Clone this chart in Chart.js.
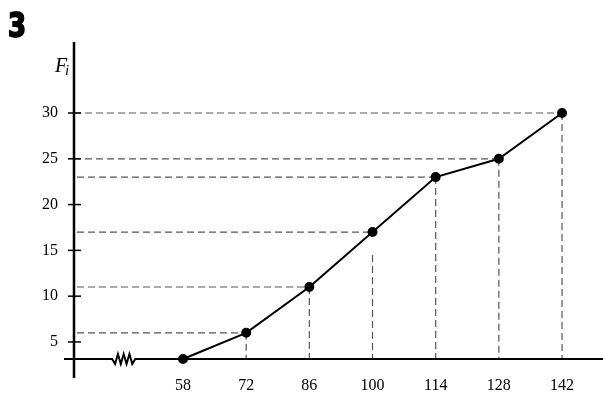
<!DOCTYPE html>
<html>
<head>
<meta charset="utf-8">
<script src="https://cdn.jsdelivr.net/npm/chart.js@4"></script>
<style>
  html, body { margin: 0; padding: 0; background: #fff; }
  #wrap { position: relative; width: 603px; height: 411px; }
</style>
</head>
<body>
<div id="wrap"><canvas id="ogiva"></canvas></div>
<script>
// datos de la ojiva
const limites = [58, 72, 86, 100, 114, 128, 142];
const frecAcum = [0, 6, 11, 17, 23, 25, 30];
const ticksY = [5, 10, 15, 20, 25, 30];
// la guia vertical de 100 empieza algo mas abajo del punto en el original
const inicioGuia = [6, 11, 14.5, 23, 25, 30];

// escala con el tramo 0..5 comprimido (el eje x cae en 0)
class EscalaCortada extends Chart.LinearScale {
    getPixelForValue(value, index) {
        if (value < 5) {
            const p5 = super.getPixelForValue(5);
            return this.bottom + (p5 - this.bottom) * (value / 5);
        }
        return super.getPixelForValue(value, index);
    }
}
EscalaCortada.id = 'cortada';
EscalaCortada.defaults = Chart.LinearScale.defaults;
Chart.register(EscalaCortada);

const serif = "'Liberation Serif', 'DejaVu Serif', serif";

// ejes, guias punteadas, rotulos
const dibujoEjes = {
    id: 'dibujoEjes',
    beforeDatasetsDraw(chart) {
        const ctx = chart.ctx;
        const xs = chart.scales.x, ys = chart.scales.y;
        const ca = chart.chartArea;
        ctx.save();
        // guias punteadas
        ctx.strokeStyle = '#555';
        ctx.lineWidth = 1.2;
        ctx.setLineDash([7, 4]);
        for (let i = 1; i < limites.length; i++) {
            const px = xs.getPixelForValue(limites[i]);
            const py = ys.getPixelForValue(frecAcum[i]);
            ctx.beginPath();
            ctx.moveTo(frecAcum[i] >= 25 ? ca.left : ca.left + 3, py);
            ctx.lineTo(px, py);
            ctx.stroke();
            ctx.beginPath();
            ctx.moveTo(px, ys.getPixelForValue(inicioGuia[i - 1]));
            ctx.lineTo(px, ca.bottom);
            ctx.stroke();
        }
        ctx.setLineDash([]);
        // eje y
        ctx.strokeStyle = '#000';
        ctx.lineWidth = 2.5;
        ctx.beginPath();
        ctx.moveTo(ca.left, ca.top);
        ctx.lineTo(ca.left, ca.bottom + 19);
        ctx.stroke();
        // marcas del eje y
        ctx.lineWidth = 1.5;
        ticksY.forEach(v => {
            const py = ys.getPixelForValue(v);
            ctx.beginPath();
            ctx.moveTo(ca.left - 6, py);
            ctx.lineTo(ca.left + 7, py);
            ctx.stroke();
        });
        // eje x con corte en zigzag
        const y0 = ca.bottom;
        const z0 = xs.getPixelForValue(42.3), z1 = xs.getPixelForValue(47.4);
        const paso = (z1 - z0) / 8;
        ctx.lineWidth = 2;
        ctx.beginPath();
        ctx.moveTo(ca.left - 10, y0);
        ctx.lineTo(z0, y0);
        for (let k = 1; k < 8; k++) {
            ctx.lineTo(z0 + paso * k, y0 + (k % 2 ? 5 : -5));
        }
        ctx.lineTo(z1, y0);
        ctx.lineTo(chart.width, y0);
        ctx.stroke();
        // titulo eje y: F_i
        ctx.fillStyle = '#000';
        ctx.textBaseline = 'alphabetic';
        ctx.font = "italic 20px " + serif;
        ctx.fillText('F', 55, 72);
        ctx.font = "italic 15px " + serif;
        ctx.fillText('i', 65, 75);
        // numero del ejercicio
        ctx.translate(8, 37);
        ctx.scale(0.85, 1);
        ctx.font = "bold 34px 'DejaVu Sans Condensed', 'Liberation Sans Narrow', sans-serif";
        ctx.strokeStyle = '#000';
        ctx.lineWidth = 1.8;
        ctx.fillText('3', 0, 0);
        ctx.strokeText('3', 0, 0);
        ctx.restore();
    }
};

const ctx = document.getElementById('ogiva').getContext('2d');
new Chart(ctx, {
    type: 'line',
    data: {
        datasets: [{
            label: 'Fi',
            data: limites.map((x, i) => ({ x: x, y: frecAcum[i] })),
            borderColor: '#000',
            backgroundColor: '#000',
            borderWidth: 2,
            pointRadius: 4,
            pointHoverRadius: 4,
            tension: 0,
            clip: false
        }]
    },
    options: {
        responsive: true,
        maintainAspectRatio: false,
        animation: false,
        layout: { padding: { top: 42, left: 0, right: 0, bottom: 0 } },
        plugins: { legend: { display: false }, tooltip: { enabled: false } },
        scales: {
            x: {
                type: 'linear',
                min: 33.84,
                max: 149.75,
                grid: { display: false },
                border: { display: false },
                afterBuildTicks: s => { s.ticks = limites.map(v => ({ value: v })); },
                afterFit: s => { s.height = 52; s.paddingLeft = 0; s.paddingRight = 0; },
                ticks: {
                    padding: 9,
                    color: '#000',
                    font: { family: serif, size: 16 },
                    maxRotation: 0,
                    autoSkip: false
                }
            },
            y: {
                type: 'cortada',
                min: 3.14,
                max: 37.75,
                grid: { display: false },
                border: { display: false },
                afterBuildTicks: s => { s.ticks = ticksY.map(v => ({ value: v })); },
                afterFit: s => { s.width = 74; s.paddingTop = 0; s.paddingBottom = 0; },
                ticks: {
                    padding: 8,
                    color: '#000',
                    font: { family: serif, size: 16 }
                }
            }
        }
    },
    plugins: [dibujoEjes]
});
</script>
</body>
</html>
